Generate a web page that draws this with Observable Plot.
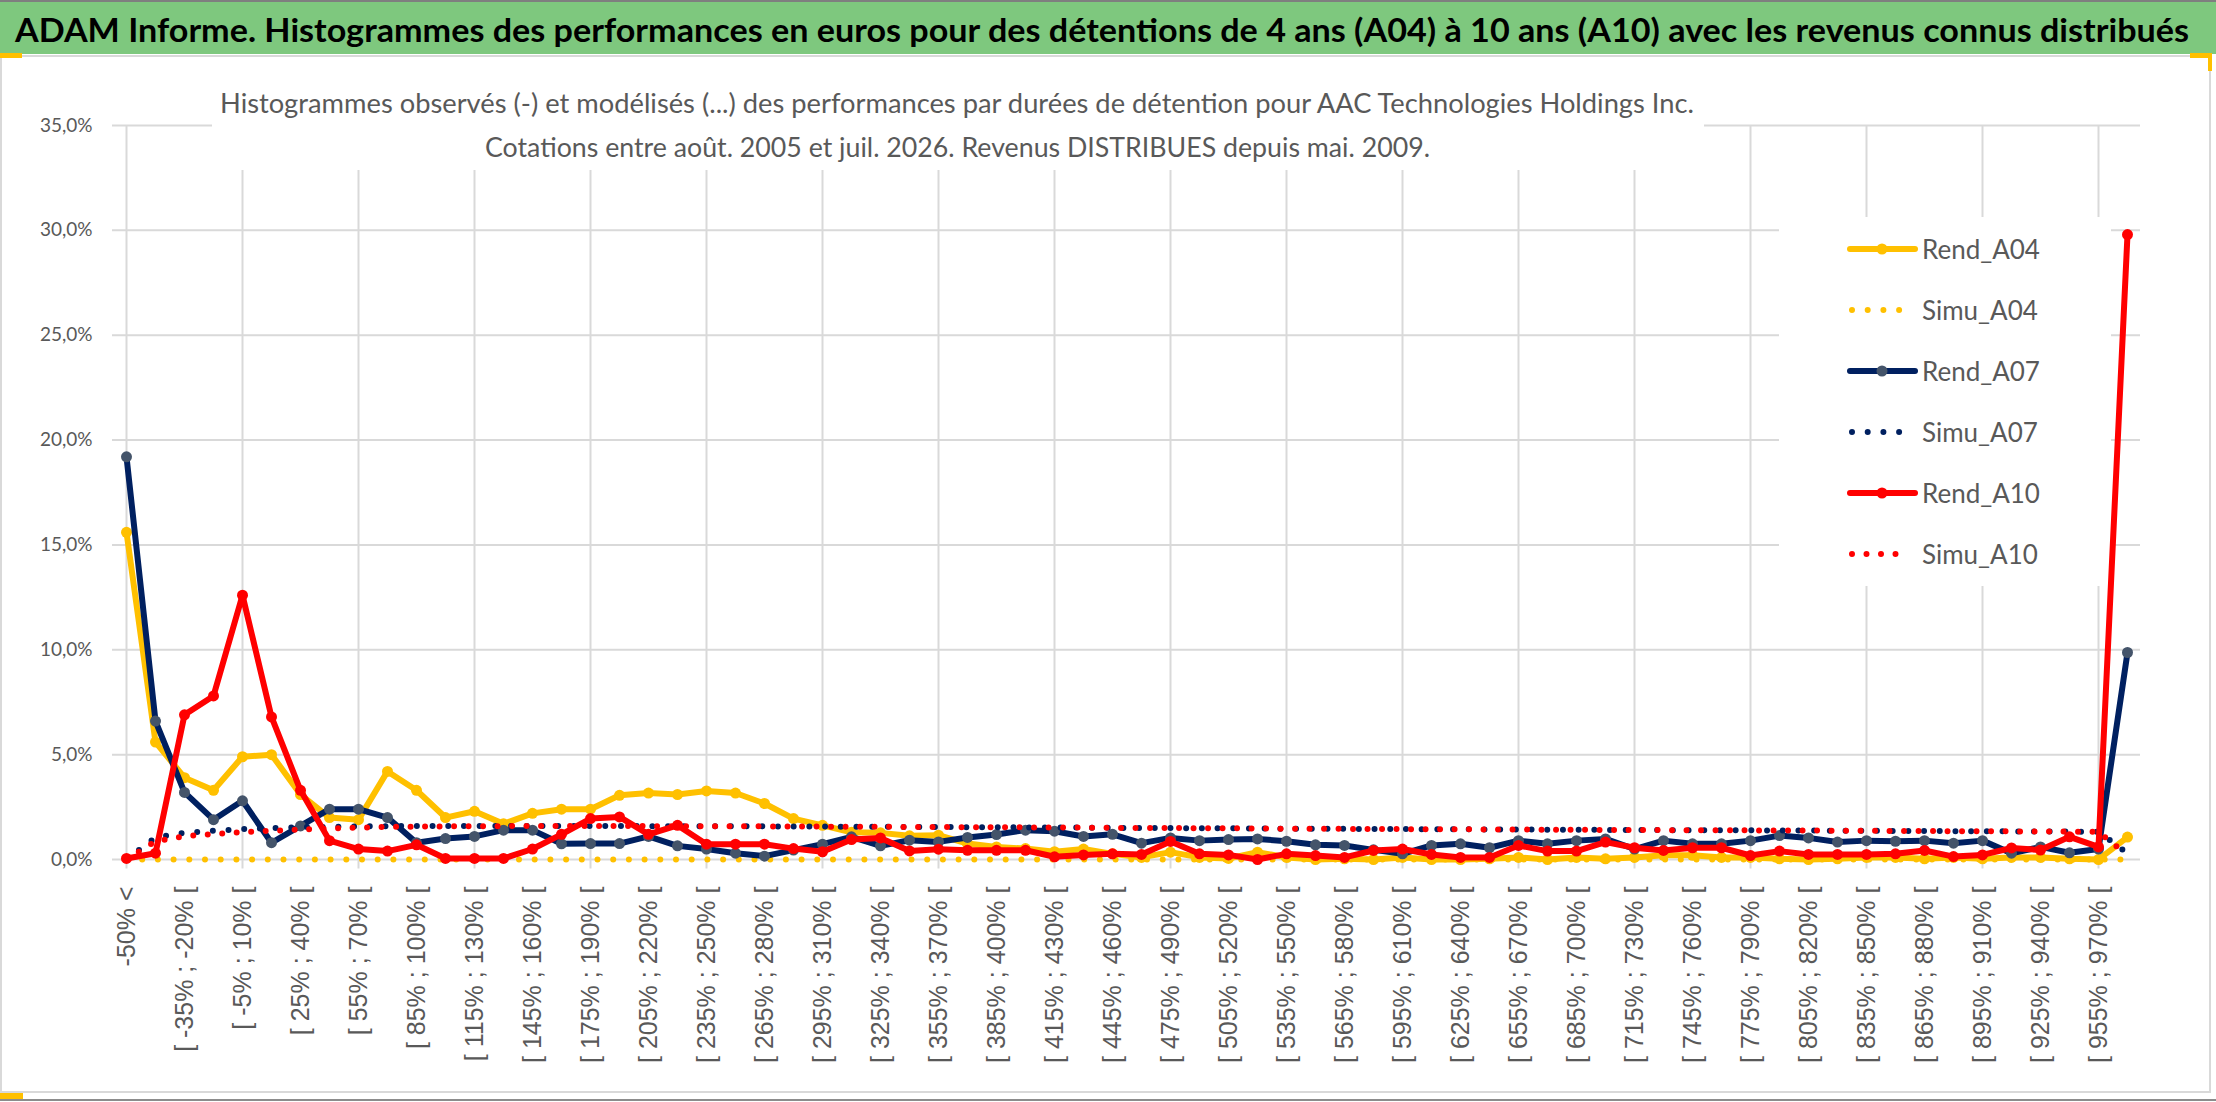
<!DOCTYPE html>
<html lang="fr">
<head>
<meta charset="utf-8">
<script src="https://cdn.jsdelivr.net/npm/d3@7"></script>
<script src="https://cdn.jsdelivr.net/npm/@observablehq/plot@0.6"></script>
<style>
html,body{margin:0;padding:0;background:#fff;}
#page{position:relative;width:2216px;height:1102px;overflow:hidden;background:#fff;}
.plotlayer{position:absolute;left:0;top:57px;}
#overlay{position:absolute;left:0;top:0;pointer-events:none;}
</style>
</head>
<body>
<div id="page"><div id="gridlayer" class="plotlayer"></div></div>
<script>
// ---------- DATA ----------
const categories = [
  "-50% <","[ -50% ; -35% [","[ -35% ; -20% [","[ -20% ; -5% [","[ -5% ; 10% [",
  "[ 10% ; 25% [","[ 25% ; 40% [","[ 40% ; 55% [","[ 55% ; 70% [","[ 70% ; 85% [",
  "[ 85% ; 100% [","[ 100% ; 115% [","[ 115% ; 130% [","[ 130% ; 145% [","[ 145% ; 160% [",
  "[ 160% ; 175% [","[ 175% ; 190% [","[ 190% ; 205% [","[ 205% ; 220% [","[ 220% ; 235% [",
  "[ 235% ; 250% [","[ 250% ; 265% [","[ 265% ; 280% [","[ 280% ; 295% [","[ 295% ; 310% [",
  "[ 310% ; 325% [","[ 325% ; 340% [","[ 340% ; 355% [","[ 355% ; 370% [","[ 370% ; 385% [",
  "[ 385% ; 400% [","[ 400% ; 415% [","[ 415% ; 430% [","[ 430% ; 445% [","[ 445% ; 460% [",
  "[ 460% ; 475% [","[ 475% ; 490% [","[ 490% ; 505% [","[ 505% ; 520% [","[ 520% ; 535% [",
  "[ 535% ; 550% [","[ 550% ; 565% [","[ 565% ; 580% [","[ 580% ; 595% [","[ 595% ; 610% [",
  "[ 610% ; 625% [","[ 625% ; 640% [","[ 640% ; 655% [","[ 655% ; 670% [","[ 670% ; 685% [",
  "[ 685% ; 700% [","[ 700% ; 715% [","[ 715% ; 730% [","[ 730% ; 745% [","[ 745% ; 760% [",
  "[ 760% ; 775% [","[ 775% ; 790% [","[ 790% ; 805% [","[ 805% ; 820% [","[ 820% ; 835% [",
  "[ 835% ; 850% [","[ 850% ; 865% [","[ 865% ; 880% [","[ 880% ; 895% [","[ 895% ; 910% [",
  "[ 910% ; 925% [","[ 925% ; 940% [","[ 940% ; 955% [","[ 955% ; 970% [","> 970%"
];

// values in percent
const rendA04 = [
  15.6,5.6,3.9,3.3,4.9,5.0,3.1,2.0,1.9,4.2,
  3.3,2.0,2.3,1.7,2.2,2.4,2.4,3.06,3.17,3.1,
  3.27,3.17,2.67,1.95,1.63,1.3,1.27,1.13,1.16,0.76,
  0.6,0.52,0.37,0.5,0.27,0.1,0.35,0.1,0.05,0.35,
  0.1,0.0,0.03,0.0,0.1,0.0,0.0,0.03,0.1,0.0,
  0.1,0.03,0.1,0.2,0.2,0.1,0.1,0.03,0.0,0.03,
  0.1,0.1,0.03,0.1,0.03,0.1,0.1,0.03,0.0,1.07
];
const simuA04 = [
  0,0,0,0,0,0,0,0,0,0,
  0,0,0,0,0,0,0,0,0,0,
  0,0,0,0,0,0,0,0,0,0,
  0,0,0,0,0,0,0,0,0,0,
  0,0,0,0,0,0,0,0,0,0,
  0,0,0,0,0,0,0,0,0,0,
  0,0,0,0,0,0,0,0,0,0
];
const rendA07 = [
  19.2,6.6,3.2,1.9,2.8,0.8,1.6,2.4,2.4,2.0,
  0.8,1.0,1.1,1.4,1.4,0.75,0.76,0.76,1.1,0.65,
  0.5,0.3,0.16,0.45,0.73,1.08,0.65,0.92,0.84,1.05,
  1.19,1.4,1.35,1.1,1.2,0.78,1.03,0.9,0.95,0.98,
  0.87,0.7,0.67,0.46,0.27,0.67,0.75,0.56,0.9,0.75,
  0.9,0.98,0.5,0.9,0.75,0.75,0.9,1.14,1.03,0.83,
  0.9,0.87,0.9,0.78,0.9,0.3,0.6,0.32,0.5,9.87
];
const simuA07 = [
  0.0,1.05,1.27,1.37,1.45,1.5,1.54,1.56,1.58,1.59,
  1.6,1.6,1.6,1.6,1.6,1.6,1.6,1.6,1.59,1.59,
  1.59,1.58,1.58,1.57,1.57,1.56,1.56,1.55,1.55,1.54,
  1.54,1.53,1.52,1.52,1.51,1.5,1.5,1.49,1.49,1.48,
  1.47,1.47,1.46,1.46,1.45,1.44,1.44,1.43,1.43,1.42,
  1.42,1.41,1.41,1.4,1.4,1.39,1.39,1.38,1.38,1.37,
  1.37,1.36,1.36,1.35,1.35,1.34,1.34,1.33,1.32,0.3
];
const rendA10 = [
  0.05,0.3,6.9,7.8,12.6,6.8,3.3,0.9,0.5,0.4,
  0.7,0.05,0.05,0.05,0.5,1.2,1.95,2.03,1.2,1.63,
  0.73,0.73,0.73,0.52,0.37,0.95,1.03,0.41,0.49,0.44,
  0.44,0.44,0.13,0.22,0.27,0.24,0.86,0.27,0.22,0.0,
  0.27,0.19,0.1,0.43,0.5,0.24,0.1,0.1,0.67,0.4,
  0.4,0.83,0.56,0.43,0.56,0.56,0.19,0.4,0.24,0.24,
  0.24,0.27,0.43,0.14,0.22,0.55,0.45,1.08,0.6,29.8
];
const simuA10 = [
  0.0,0.87,1.11,1.21,1.3,1.37,1.43,1.48,1.52,1.55,
  1.57,1.58,1.59,1.59,1.6,1.6,1.6,1.6,1.59,1.59,
  1.59,1.58,1.58,1.57,1.57,1.56,1.56,1.55,1.55,1.54,
  1.54,1.53,1.52,1.52,1.51,1.5,1.5,1.49,1.49,1.48,
  1.47,1.47,1.46,1.46,1.45,1.44,1.44,1.43,1.43,1.42,
  1.42,1.41,1.41,1.4,1.4,1.39,1.39,1.38,1.38,1.37,
  1.37,1.36,1.36,1.35,1.35,1.34,1.34,1.33,1.32,0.2
];

const yTicks = [0, 5, 10, 15, 20, 25, 30, 35];
const seriesNames = ["Rend_A04","Simu_A04","Rend_A07","Simu_A07","Rend_A10","Simu_A10"];
const seriesValues = [rendA04, simuA04, rendA07, simuA07, rendA10, simuA10];
const seriesColors = ["#FFC000","#FFC000","#002060","#002060","#FF0000","#FF0000"];
const markerColors = ["#FFC000", null, "#44546A", null, "#FF0000", null];
const dotGaps = [null, 15.7, null, 15.7, null, 14.5];

const titleText = "ADAM Informe. Histogrammes des performances en euros pour des détentions de 4 ans (A04) à 10 ans (A10) avec les revenus connus distribués";
const subtitle1 = "Histogrammes observés (-) et modélisés (...) des performances par durées de détention pour AAC Technologies Holdings Inc.";
const subtitle2 = "Cotations entre août. 2005 et juil. 2026. Revenus DISTRIBUES depuis mai. 2009.";

// ---------- SHARED PLOT SETUP ----------
const fmt = d => d.toFixed(1).replace(".", ",") + "%";
const gridCats = categories.filter((d, i) => i % 4 === 0 && i < 69);
const labelCats = categories.filter((d, i) => i % 2 === 0 && i < 69);
const rowsOf = vals => categories.map((c, i) => ({cat: c, v: vals[i]}));
const base = {
  width: 2216, height: 1045,
  marginLeft: 112, marginRight: 76, marginTop: 68, marginBottom: 243,
  x: {type: "point", domain: categories, padding: 0},
  y: {domain: [0, 35]},
  style: {background: "transparent", overflow: "visible", fontFamily: "Lato, sans-serif"}
};

// layer 1: grid + axes
const gridPlot = Plot.plot({
  ...base,
  marks: [
    Plot.ruleY(yTicks, {stroke: "#d9d9d9", strokeWidth: 2}),
    Plot.ruleX(gridCats, {y1: -0.45, y2: 35, stroke: "#d9d9d9", strokeWidth: 2}),
    Plot.axisY(yTicks, {tickSize: 0, tickPadding: 20, label: null, tickFormat: fmt,
      fontSize: 19, fontFamily: "Lato, 'Open Sans', sans-serif", fill: "#595959"}),
    Plot.axisX(labelCats, {tickSize: 0, tickPadding: 27, tickRotate: -90, label: null,
      fontSize: 25, fontFamily: "'Liberation Sans', Arial, sans-serif", fill: "#595959"})
  ]
});
document.getElementById("gridlayer").append(gridPlot);

// layer 2: overlay (title, frame, subtitle, legend)
const ov = d3.select("#page").append("svg").attr("id", "overlay")
  .attr("width", 2216).attr("height", 1102);

ov.append("rect").attr("x", 1).attr("y", 56).attr("width", 2209).attr("height", 1036)
  .attr("fill", "none").attr("stroke", "#d9d9d9").attr("stroke-width", 2);
ov.append("line").attr("x1", 0).attr("x2", 2216).attr("y1", 1100).attr("y2", 1100)
  .attr("stroke", "#8c8c8c").attr("stroke-width", 2);

ov.append("rect").attr("x", 0).attr("y", 0).attr("width", 2216).attr("height", 54).attr("fill", "#7ec87e");
ov.append("line").attr("x1", 0).attr("x2", 2216).attr("y1", 1).attr("y2", 1)
  .attr("stroke", "#7f7f7f").attr("stroke-width", 2);
ov.append("text").attr("x", 15).attr("y", 42)
  .attr("font-family", "Lato, 'Open Sans', sans-serif").attr("font-weight", 700).attr("font-size", 32)
  .attr("fill", "#000").attr("textLength", 2174).attr("lengthAdjust", "spacingAndGlyphs")
  .text(titleText);

ov.append("rect").attr("x", 0).attr("y", 53).attr("width", 22).attr("height", 5).attr("fill", "#FFC000");
ov.append("rect").attr("x", 2190).attr("y", 53).attr("width", 22).attr("height", 5).attr("fill", "#FFC000");
ov.append("rect").attr("x", 2208).attr("y", 53).attr("width", 4).attr("height", 18).attr("fill", "#FFC000");
ov.append("rect").attr("x", 0).attr("y", 1093).attr("width", 23).attr("height", 6).attr("fill", "#FFC000");

ov.append("rect").attr("x", 212).attr("y", 72).attr("width", 1492).attr("height", 98).attr("fill", "#fff");
ov.append("text").attr("x", 220).attr("y", 113)
  .attr("font-family", "Lato, 'Open Sans', sans-serif").attr("font-size", 27).attr("fill", "#595959")
  .attr("textLength", 1474).attr("lengthAdjust", "spacingAndGlyphs").text(subtitle1);
ov.append("text").attr("x", 485).attr("y", 157)
  .attr("font-family", "Lato, 'Open Sans', sans-serif").attr("font-size", 27).attr("fill", "#595959")
  .attr("textLength", 945).attr("lengthAdjust", "spacingAndGlyphs").text(subtitle2);

ov.append("rect").attr("x", 1779).attr("y", 217).attr("width", 332).attr("height", 369).attr("fill", "#fff");
seriesNames.forEach((name, k) => {
  const cy = 249 + 61 * k;
  if (markerColors[k]) {
    ov.append("line").attr("x1", 1850).attr("x2", 1915).attr("y1", cy).attr("y2", cy)
      .attr("stroke", seriesColors[k]).attr("stroke-width", 6).attr("stroke-linecap", "round");
    ov.append("circle").attr("cx", 1882).attr("cy", cy).attr("r", 5.5).attr("fill", markerColors[k]);
  } else {
    const len = k === 5 ? 58 : 48;
    ov.append("line").attr("x1", 1852).attr("x2", 1852 + len).attr("y1", cy).attr("y2", cy)
      .attr("stroke", seriesColors[k]).attr("stroke-width", 6).attr("stroke-linecap", "round")
      .attr("stroke-dasharray", "0 " + dotGaps[k]);
  }
  ov.append("text").attr("x", 1922).attr("y", cy + 10)
    .attr("font-family", "Lato, 'Open Sans', sans-serif").attr("font-size", 26).attr("fill", "#595959")
    .text(name);
});

// layer 3: data series on top
const dataMarks = [];
seriesNames.forEach((name, k) => {
  const data = rowsOf(seriesValues[k]);
  if (markerColors[k]) {
    dataMarks.push(Plot.line(data, {x: "cat", y: "v", stroke: seriesColors[k], strokeWidth: 6,
      strokeLinejoin: "round", strokeLinecap: "round"}));
    dataMarks.push(Plot.dot(data, {x: "cat", y: "v", r: 5.5, fill: markerColors[k], stroke: null}));
  } else {
    dataMarks.push(Plot.line(data, {x: "cat", y: "v", stroke: seriesColors[k], strokeWidth: 6,
      strokeDasharray: "0 " + dotGaps[k], strokeLinecap: "round"}));
  }
});
const dataPlot = Plot.plot({
  ...base,
  x: {...base.x, axis: null},
  y: {...base.y, axis: null},
  marks: dataMarks
});
const dataDiv = document.createElement("div");
dataDiv.className = "plotlayer";
dataDiv.style.pointerEvents = "none";
dataDiv.append(dataPlot);
document.getElementById("page").append(dataDiv);
</script>
</body>
</html>
